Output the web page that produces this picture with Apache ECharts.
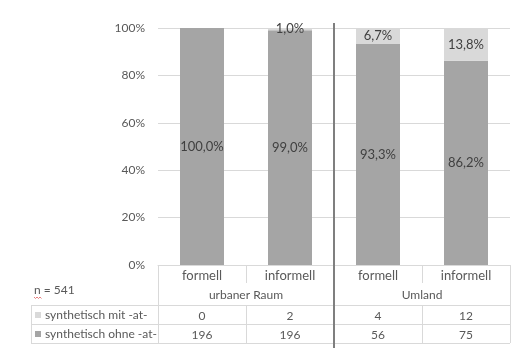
<!DOCTYPE html>
<html>
<head>
<meta charset="utf-8">
<script src="https://cdn.jsdelivr.net/npm/echarts@6/dist/echarts.min.js"></script>
<style>
  html, body { margin: 0; padding: 0; background: #fff; }
  #chart { width: 530px; height: 364px; }
</style>
</head>
<body>
<div id="chart"></div>
<script>
// categories
const types = ['formell', 'informell', 'formell', 'informell'];
const regions = ['urbaner Raum', 'Umland'];
const seriesNames = ['synthetisch mit -at-', 'synthetisch ohne -at-'];

// shares in percent
const ohnePct = [100.0, 99.0, 93.3, 86.2];
const mitPct = [0, 1.0, 6.7, 13.8];

// counts in the table under the chart
const mitCounts = [0, 2, 4, 12];
const ohneCounts = [196, 196, 56, 75];
const nTotal = 541;

const textColor = '#595959';
const lineColor = '#d9d9d9';
const font = 'Lato, "Open Sans", sans-serif';

const chart = echarts.init(document.getElementById('chart'));

const pctLabel = (p) => (p.value === 0 ? '' : p.value.toFixed(1).replace('.', ',') + '%');

const tableAxis = (data, offset, tickLen, fontSize, margin) => ({
  type: 'category',
  data: data,
  position: 'bottom',
  offset: offset,
  axisLine: { show: offset !== 18, lineStyle: { color: lineColor, width: 1 } },
  axisTick: { show: true, length: tickLen, interval: 0, lineStyle: { color: lineColor } },
  axisLabel: { interval: 0, margin: margin, color: textColor, fontSize: fontSize, fontFamily: font },
  splitLine: { show: false }
});

const option = {
  animation: false,
  backgroundColor: '#fff',
  grid: { left: 158, right: 20, top: 28, bottom: 99, containLabel: false },
  xAxis: [
    tableAxis(types, 0, 18, 13, 4),
    tableAxis(regions, 18, 22, 12, 6),
    tableAxis(mitCounts.map(String), 40, 19, 12, 5),
    tableAxis(ohneCounts.map(String), 59, 19, 12, 5)
  ],
  yAxis: {
    type: 'value',
    min: 0,
    max: 100,
    interval: 20,
    axisLine: { show: false },
    axisTick: { show: false },
    axisLabel: { formatter: '{value}%', color: textColor, fontSize: 12, margin: 13, fontFamily: font },
    splitLine: { lineStyle: { color: lineColor } }
  },
  series: [
    {
      name: seriesNames[1],
      type: 'bar',
      stack: 'total',
      barWidth: '50%',
      data: ohnePct,
      itemStyle: { color: '#a5a5a5' },
      label: { show: true, position: 'inside', formatter: pctLabel, color: '#404040', fontSize: 13, fontFamily: font }
    },
    {
      name: seriesNames[0],
      type: 'bar',
      stack: 'total',
      barWidth: '50%',
      data: mitPct,
      itemStyle: { color: '#d9d9d9' },
      label: { show: true, position: 'inside', formatter: pctLabel, color: '#404040', fontSize: 13, fontFamily: font }
    }
  ],
  graphic: [
    // table lines left of the plot
    { type: 'line', shape: { x1: 31, y1: 305.5, x2: 158, y2: 305.5 }, style: { stroke: lineColor, lineWidth: 1 } },
    { type: 'line', shape: { x1: 31, y1: 324.5, x2: 158, y2: 324.5 }, style: { stroke: lineColor, lineWidth: 1 } },
    { type: 'line', shape: { x1: 31, y1: 343.5, x2: 510, y2: 343.5 }, style: { stroke: lineColor, lineWidth: 1 } },
    { type: 'line', shape: { x1: 31.5, y1: 305, x2: 31.5, y2: 344 }, style: { stroke: lineColor, lineWidth: 1 } },
    // legend keys and row titles
    { type: 'rect', shape: { x: 35, y: 312, width: 6, height: 6 }, style: { fill: '#d9d9d9' } },
    { type: 'rect', shape: { x: 35, y: 331, width: 6, height: 6 }, style: { fill: '#a5a5a5' } },
    { type: 'text', x: 45, y: 315, style: { text: seriesNames[0], fill: textColor, font: '12px ' + font, verticalAlign: 'middle' } },
    { type: 'text', x: 45, y: 334, style: { text: seriesNames[1], fill: textColor, font: '12px ' + font, verticalAlign: 'middle' } },
    // sample size
    { type: 'text', x: 34, y: 290, style: { text: 'n = ' + nTotal, fill: textColor, font: '12px ' + font, verticalAlign: 'middle' } },
    { type: 'polyline', shape: { points: [[34, 297], [35.5, 298.5], [37, 297], [38.5, 298.5], [40, 297], [41.5, 298.5]] }, style: { stroke: '#e06060', lineWidth: 0.8, fill: null } },
    // separator between the two regions
    { type: 'line', z: 100, shape: { x1: 334, y1: 23, x2: 334, y2: 348 }, style: { stroke: '#7f7f7f', lineWidth: 2 } }
  ]
};

chart.setOption(option);
</script>
</body>
</html>
